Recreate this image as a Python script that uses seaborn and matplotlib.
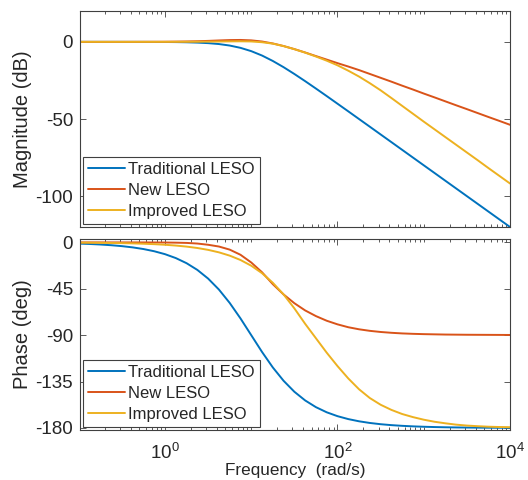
import numpy as np
import pandas as pd
import matplotlib
matplotlib.use("Agg")
import matplotlib.pyplot as plt
import matplotlib.ticker as mticker
import seaborn as sns

# ---------------- data ----------------
freq = [0.1, 0.1334, 0.1778, 0.2371, 0.3162, 0.4217, 0.5623, 0.7499,
        1.0, 1.334, 1.778, 2.371, 3.162, 4.217, 5.623, 7.499,
        10.0, 13.34, 17.78, 23.71, 31.62, 42.17, 56.23, 74.99,
        100.0, 133.4, 177.8, 237.1, 316.2, 421.7, 562.3, 749.9,
        1000.0, 1334.0, 1778.0, 2371.0, 3162.0, 4217.0, 5623.0, 7499.0,
        10000.0]

series_names = ["Traditional LESO", "New LESO", "Improved LESO"]

mag_traditional = [0.0, 0.0, 0.0, 0.0, -0.01, -0.02, -0.03, -0.05,
                   -0.09, -0.15, -0.27, -0.48, -0.83, -1.42, -2.39, -3.88,
                   -6.02, -8.87, -12.39, -16.42, -20.83, -25.47, -30.27, -35.15,
                   -40.09, -45.05, -50.03, -55.01, -60.01, -65.0, -70.0, -75.0,
                   -80.0, -85.0, -90.0, -95.0, -100.0, -105.0, -110.0, -115.0,
                   -120.0]
mag_new = [0.0, 0.0, 0.0, 0.0, 0.01, 0.02, 0.03, 0.05,
           0.08, 0.15, 0.25, 0.41, 0.63, 0.91, 1.16, 1.24,
           0.97, 0.22, -1.04, -2.71, -4.70, -6.89, -9.22, -11.5,
           -13.8, -16.0, -18.3, -20.8, -23.3, -25.8, -28.4, -30.9,
           -33.5, -36.0, -38.55, -41.1, -43.6, -46.15, -48.7, -51.2,
           -53.75]
mag_improved = [0.0, 0.0, 0.0, 0.0, 0.0, 0.0, 0.01, 0.01,
                0.02, 0.04, 0.06, 0.1, 0.15, 0.22, 0.3, 0.35,
                0.25, -0.25, -1.15, -2.75, -4.75, -7.0, -9.5, -12.2,
                -15.2, -18.7, -22.5, -26.8, -31.4, -36.4, -41.5, -46.6,
                -51.7, -56.7, -61.7, -66.7, -71.7, -76.7, -81.8, -86.8,
                -91.8]

phase_traditional = [-1.15, -1.53, -2.04, -2.72, -3.62, -4.83, -6.44, -8.58,
                     -11.42, -15.20, -20.17, -26.68, -35.10, -45.73, -58.71, -73.73,
                     -90.0, -106.30, -121.30, -134.26, -144.90, -153.32, -159.84, -164.82,
                     -168.58, -171.42, -173.56, -175.17, -176.38, -177.28, -177.96, -178.47,
                     -178.85, -179.14, -179.36, -179.52, -179.64, -179.73, -179.80, -179.85,
                     -179.89]
phase_new = [0.0, 0.0, 0.0, 0.0, 0.0, -0.01, -0.02, -0.05,
             -0.11, -0.25, -0.5, -1.1, -2.3, -4.0, -7.0, -12.0,
             -19.5, -29.0, -40.5, -50.5, -59.0, -66.0, -71.5, -76.0,
             -79.5, -82.3, -84.3, -85.8, -86.9, -87.7, -88.3, -88.7,
             -89.0, -89.2, -89.4, -89.5, -89.6, -89.65, -89.7, -89.75,
             -89.8]
phase_improved = [-0.23, -0.31, -0.41, -0.54, -0.72, -0.97, -1.29, -1.72,
                  -2.29, -3.06, -4.07, -5.43, -7.24, -9.64, -12.83, -17.06,
                  -22.62, -29.88, -39.15, -50.5, -64.0, -79.0, -93.0, -107.0,
                  -120.0, -132.0, -142.5, -151.0, -157.5, -162.5, -166.5, -169.5,
                  -172.0, -174.0, -175.5, -176.8, -177.7, -178.3, -178.8, -179.1,
                  -179.3]

mag_ticks = [0, -50, -100]
phase_ticks = [0, -45, -90, -135, -180]
freq_ticks = [1, 100, 10000]

colors = ["#0072BD", "#D95319", "#EDB120"]

# ---------------- build table ----------------
n = len(freq)
df = pd.DataFrame({
    "freq": freq * 3,
    "mag": mag_traditional + mag_new + mag_improved,
    "phase": phase_traditional + phase_new + phase_improved,
    "model": [series_names[0]] * n + [series_names[1]] * n + [series_names[2]] * n,
})

# ---------------- style ----------------
sns.set_style("ticks")
plt.rcParams["font.family"] = ["Liberation Sans", "DejaVu Sans"]
plt.rcParams["mathtext.fontset"] = "custom"
plt.rcParams["mathtext.rm"] = "Liberation Sans"
plt.rcParams["mathtext.default"] = "regular"
plt.rcParams["axes.unicode_minus"] = False

edge = "#404040"

fig = plt.figure(figsize=(5.28, 4.8), dpi=100)
W, H = 528.0, 480.0
ax1 = fig.add_axes([80 / W, 1 - 227 / H, 430 / W, 216 / H])
ax2 = fig.add_axes([80 / W, 1 - 430 / H, 430 / W, 191 / H])

for ax, ycol in ((ax1, "mag"), (ax2, "phase")):
    ax.set_xscale("log")
    sns.lineplot(data=df, x="freq", y=ycol, hue="model", hue_order=series_names,
                 palette=colors, ax=ax, linewidth=1.4, errorbar=None,
                 estimator=None, sort=True)

ax1.set_ylim(-120, 20)
ax2.set_ylim(-182, 3.3)
for ax in (ax1, ax2):
    ax.set_xlim(0.1034, 10000)
    ax.xaxis.set_major_locator(mticker.FixedLocator(freq_ticks))
    minors = [k * 10.0 ** e for e in range(-2, 5) for k in range(1, 10)
              if k * 10.0 ** e not in freq_ticks]
    ax.xaxis.set_minor_locator(mticker.FixedLocator(minors))
    ax.xaxis.set_minor_formatter(mticker.NullFormatter())
    ax.tick_params(which="both", direction="in", top=True, right=True,
                   color=edge, width=0.6, labelsize=13.5)
    ax.tick_params(axis="y", pad=5)
    ax.tick_params(which="major", length=4)
    ax.tick_params(which="minor", length=2.2)
    for sp in ax.spines.values():
        sp.set_color(edge)
        sp.set_linewidth(0.8)

ax2.tick_params(axis="x", which="major", pad=9)

ax1.set_yticks(mag_ticks)
ax2.set_yticks(phase_ticks)
ax1.xaxis.set_major_formatter(mticker.NullFormatter())
ax2.xaxis.set_major_formatter(mticker.LogFormatterSciNotation())

ax1.set_xlabel("")
ax2.set_xlabel("Frequency  (rad/s)", fontsize=12.3, labelpad=0.5)
ax1.set_ylabel("Magnitude (dB)", fontsize=14.5)
ax2.set_ylabel("Phase (deg)", fontsize=14.5)
ax1.yaxis.set_label_coords(-0.112, 0.5)
ax2.yaxis.set_label_coords(-0.112, 0.5)

for ax in (ax1, ax2):
    sns.move_legend(ax, "lower left", title=None, frameon=True, fontsize=12,
                    handlelength=2.2, handletextpad=0.2, labelspacing=0.36,
                    borderaxespad=0.2, borderpad=0.3, fancybox=False,
                    edgecolor=edge, framealpha=1)
    leg = ax.get_legend()
    leg.get_frame().set_linewidth(0.8)
    for ln in leg.get_lines():
        ln.set_linewidth(1.4)

fig.savefig("out.png", dpi=100)
